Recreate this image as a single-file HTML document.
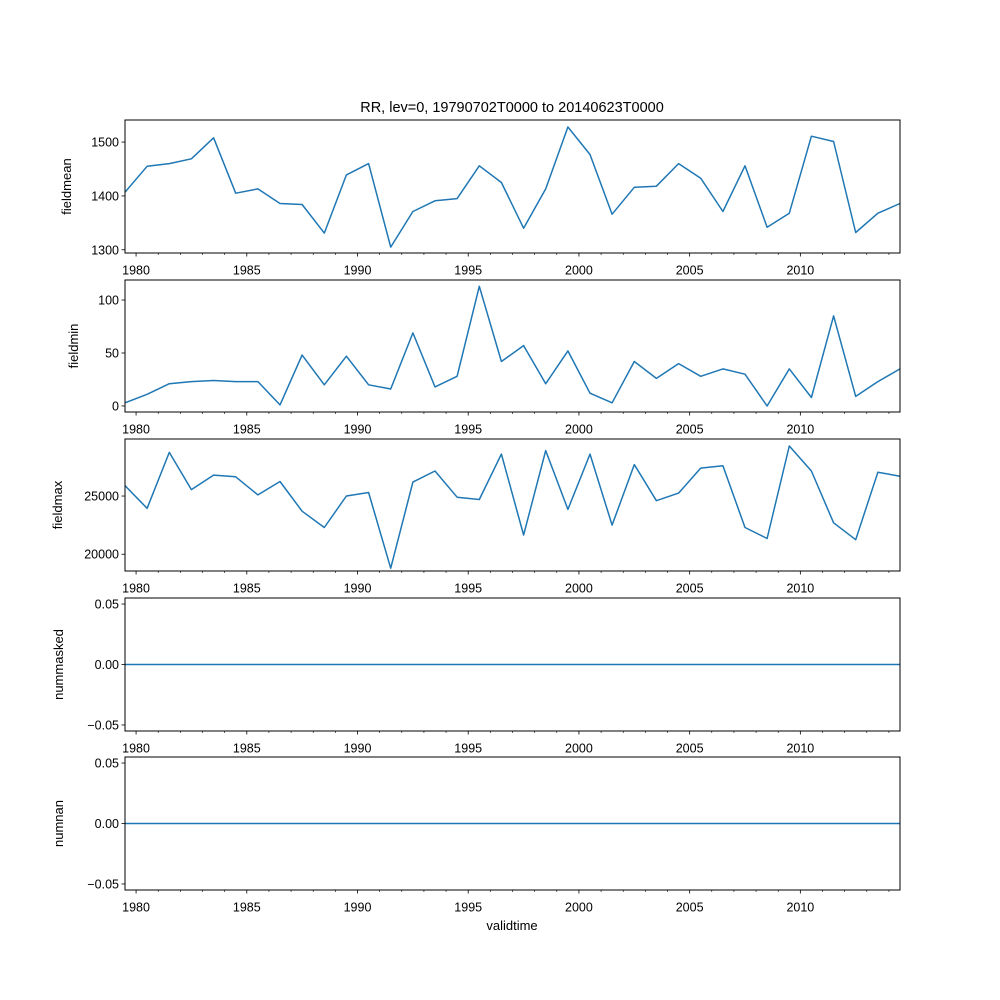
<!DOCTYPE html>
<html><head><meta charset="utf-8"><style>
html,body{margin:0;padding:0;background:#fff;}
svg{display:block;font-family:"Liberation Sans","DejaVu Sans",sans-serif;}
</style></head><body>
<svg id="chart" width="1000" height="1000" viewBox="0 0 1000 1000">
<text x="512" y="112" font-size="14.5" text-anchor="middle">RR, lev=0, 19790702T0000 to 20140623T0000</text>
<text x="512" y="930" font-size="13" text-anchor="middle">validtime</text>
</svg>
<script>
const years = [1979.5,1980.5,1981.5,1982.5,1983.5,1984.5,1985.5,1986.5,1987.5,1988.5,1989.5,1990.5,1991.5,1992.5,1993.5,1994.5,1995.5,1996.5,1997.5,1998.5,1999.5,2000.5,2001.5,2002.5,2003.5,2004.5,2005.5,2006.5,2007.5,2008.5,2009.5,2010.5,2011.5,2012.5,2013.5,2014.5];
const fieldmean = [1407,1455,1460,1469,1508,1405,1413,1386,1384,1331,1439,1460,1305,1371,1391,1395,1456,1425,1340,1413,1528,1477,1366,1416,1418,1460,1433,1371,1456,1342,1368,1511,1501,1332,1368,1386];
const fieldmin = [3,11,21,23,24,23,23,1,48,20,47,20,16,69,18,28,113,42,57,21,52,12,3,42,26,40,28,35,30,0,35,8,85,9,23,35];
const fieldmax = [25900,23950,28750,25550,26800,26650,25100,26250,23700,22300,25000,25300,18800,26200,27150,24900,24700,28600,21650,28900,23850,28600,22500,27700,24600,25250,27400,27600,22300,21350,29300,27150,22700,21250,27050,26700];
const nummasked = years.map(()=>0);
const numnan = years.map(()=>0);
const xTicks = [1980,1985,1990,1995,2000,2005,2010];

const svg = document.getElementById('chart');
const NS = 'http://www.w3.org/2000/svg';
const L = 125, R = 900;
const x = v => L + (v - years[0]) / (years[years.length-1] - years[0]) * (R - L);
function mk(tag, attrs, parent){const e=document.createElementNS(NS,tag);for(const k in attrs)e.setAttribute(k,attrs[k]);(parent||svg).appendChild(e);return e;}

const panels = [
 {name:'fieldmean', data:fieldmean, top:120, bot:253, ymin:1294, ymax:1541, ticks:[1300,1400,1500], fmt:v=>String(v), lx:71},
 {name:'fieldmin', data:fieldmin, top:280, bot:412, ymin:-5.7, ymax:118.9, ticks:[0,50,100], fmt:v=>String(v), lx:78},
 {name:'fieldmax', data:fieldmax, top:439, bot:571, ymin:18560, ymax:29900, ticks:[20000,25000], fmt:v=>String(v), lx:62},
 {name:'nummasked', data:nummasked, top:598, bot:731, ymin:-0.055, ymax:0.055, ticks:[-0.05,0,0.05], fmt:v=>v.toFixed(2).replace('-','\u2212'), lx:63},
 {name:'numnan', data:numnan, top:757, bot:890, ymin:-0.055, ymax:0.055, ticks:[-0.05,0,0.05], fmt:v=>v.toFixed(2).replace('-','\u2212'), lx:63}
];

panels.forEach(p=>{
  const g = mk('g',{});
  
  
  const y = v => p.bot - (v - p.ymin)/(p.ymax - p.ymin)*(p.bot - p.top);
  const d = p.data.map((v,i)=>(i?'L':'M')+x(years[i]).toFixed(1)+' '+y(v).toFixed(1)).join(' ');
  const line = mk('path',{d:d,fill:'none',stroke:'#1f77b4','stroke-width':1.5,'stroke-linejoin':'round'},g);
  
  
  const frame = mk('rect',{x:L,y:p.top,width:R-L,height:p.bot-p.top,fill:'none',stroke:'#000','stroke-width':1},g);
  
  
  p.ticks.forEach(t=>{
    const ty = y(t);
    mk('line',{x1:L-3.5,x2:L,y1:ty,y2:ty,stroke:'#000','stroke-width':0.8},g);
    const tx = mk('text',{x:L-6,y:ty+4.5,'font-size':12.5,'text-anchor':'end'},g);
    tx.textContent = p.fmt(t);
    
    
  });
  for(let yr=1980; yr<=2014; yr++){
    const xx = x(yr);
    const major = xTicks.includes(yr);
    mk('line',{x1:xx,x2:xx,y1:p.bot,y2:p.bot+(major?3.5:2),stroke:'#000','stroke-width':major?0.8:0.6},g);
    if(major){
      const tx = mk('text',{x:xx,y:p.bot+21.5,'font-size':12.5,'text-anchor':'middle'},g);
      tx.textContent = String(yr);
      
      
    }
  }
  const yl = mk('text',{x:0,y:0,'font-size':13,'text-anchor':'middle',transform:'translate('+p.lx+','+((p.top+p.bot)/2)+') rotate(-90)'},g);
  yl.textContent = p.name;
  
  
});
</script>
</body></html>
